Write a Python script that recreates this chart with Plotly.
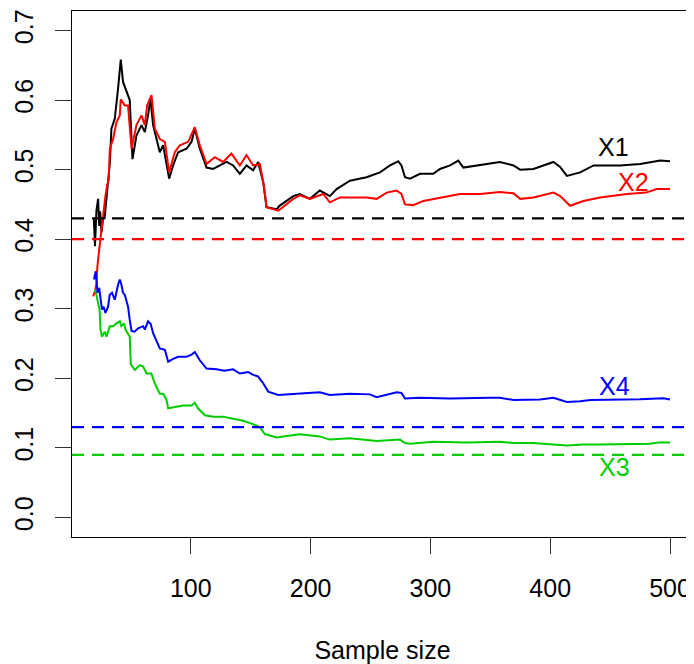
import plotly.graph_objects as go

# ---- data ----
x1_n = [19, 20, 21.2, 22.6, 23.5, 24.3, 25.4, 26.7, 28, 29.6, 30.9, 32.4, 33.7, 36.5, 39.3, 41.5, 43.4, 46.3, 49, 51.3,
        54.6, 58.8, 61.6, 64.3, 66.3, 68.5, 71.3, 74.1, 76.9, 79.7, 81.9, 85.2, 89.4, 96.4, 100.6, 103.3, 107.5, 113.1,
        118.6, 124.2, 129.8, 135.3, 140.9, 146.5, 152, 156.2, 160.4, 163.2, 171.6, 174, 185.5, 191, 199.4, 207.7, 216.1,
        221.7, 232.8, 246.7, 257.9, 266.2, 273.2, 275.8, 278.8, 283, 291.3, 302.4, 308, 316.4, 323.3, 327.5, 338.6, 347,
        358, 369.3, 374.9, 386, 402.7, 408.3, 413.9, 425, 436.2, 458.4, 475.1, 491.8, 500]
x1_v = [0.431, 0.39, 0.441, 0.458, 0.419, 0.44, 0.41, 0.429, 0.43, 0.458, 0.477, 0.51, 0.559, 0.573, 0.617, 0.658, 0.626,
        0.612, 0.600, 0.515, 0.549, 0.564, 0.554, 0.578, 0.602, 0.564, 0.544, 0.525, 0.535, 0.506, 0.487, 0.506, 0.525,
        0.530, 0.540, 0.559, 0.530, 0.503, 0.501, 0.506, 0.511, 0.506, 0.494, 0.506, 0.499, 0.511, 0.482, 0.446, 0.443,
        0.448, 0.462, 0.465, 0.458, 0.47, 0.462, 0.472, 0.484, 0.489, 0.496, 0.506, 0.512, 0.506, 0.489, 0.487, 0.494,
        0.494, 0.501, 0.506, 0.513, 0.503, 0.506, 0.508, 0.511, 0.506, 0.5, 0.501, 0.511, 0.504, 0.491, 0.496, 0.506,
        0.506, 0.508, 0.513, 0.512]

x2_n = [18.4, 20, 21.2, 22, 23.5, 24.8, 26, 27.6, 28.7, 30.1, 31.5, 32.4, 35.1, 37.9, 40.7, 41.5, 44.9, 47.6, 50.5, 54.6,
        58.8, 61.6, 63.5, 67.2, 69.9, 74.1, 78.3, 81.9, 86.6, 90.8, 97.8, 103.3, 107.5, 113.1, 120, 126.9, 133.9, 140.9,
        146.5, 152, 157.6, 161, 163.2, 173, 185.5, 191, 199.4, 210.5, 216.1, 224.5, 246.7, 255.1, 263.5, 271.8, 275.8,
        278.8, 285.7, 294.1, 308, 324.7, 341.4, 358, 369.3, 374.9, 386, 402.7, 408.3, 416.6, 427.7, 441.7, 464, 480, 489,
        500]
x2_v = [0.318, 0.325, 0.337, 0.361, 0.385, 0.405, 0.429, 0.448, 0.462, 0.477, 0.486, 0.53, 0.544, 0.568, 0.578, 0.601,
        0.592, 0.592, 0.53, 0.564, 0.578, 0.564, 0.592, 0.607, 0.559, 0.544, 0.540, 0.496, 0.525, 0.535, 0.540, 0.561,
        0.535, 0.508, 0.518, 0.511, 0.523, 0.506, 0.521, 0.506, 0.508, 0.477, 0.446, 0.441, 0.458, 0.463, 0.458, 0.465,
        0.453, 0.460, 0.460, 0.458, 0.467, 0.470, 0.465, 0.450, 0.449, 0.455, 0.460, 0.465, 0.465, 0.468, 0.466, 0.458,
        0.460, 0.467, 0.462, 0.448, 0.455, 0.46, 0.465, 0.467, 0.472, 0.472]

x3_n = [19.8, 21.2, 22.6, 23.8, 24.6, 25.8, 28.2, 29.6, 32.3, 35.1, 37.9, 40.7, 42, 44.3, 45.5, 47.6, 49, 49.9, 53.2,
        57.4, 60.2, 63, 67, 69.9, 74.1, 77, 79.7, 81.1, 86.6, 93.6, 100.6, 103.3, 106, 111.7, 118.6, 126.9, 135.3, 143.7,
        150.7, 157.6, 161.8, 171.6, 180, 191, 207.7, 216, 232.8, 246.7, 255.1, 274.5, 278.8, 283, 302.4, 330, 358, 369.3,
        385.5, 414, 427.7, 441.7, 483, 491.8, 500]
x3_v = [0.328, 0.32, 0.308, 0.30, 0.27, 0.26, 0.267, 0.26, 0.275, 0.275, 0.279, 0.282, 0.275, 0.279, 0.27, 0.265, 0.26,
        0.22, 0.212, 0.219, 0.217, 0.207, 0.207, 0.193, 0.178, 0.178, 0.169, 0.157, 0.159, 0.161, 0.161, 0.165, 0.157,
        0.147, 0.145, 0.145, 0.142, 0.139, 0.135, 0.13, 0.12, 0.115, 0.117, 0.1195, 0.1166, 0.112, 0.114, 0.112, 0.11,
        0.112, 0.107, 0.106, 0.109, 0.108, 0.109, 0.107, 0.107, 0.1035, 0.105, 0.105, 0.106, 0.108, 0.108]

x4_n = [19.2, 20.6, 21.5, 22, 23.5, 24.8, 25.8, 27.2, 28.7, 30.9, 32.3, 34.2, 36.5, 39.3, 40.7, 42, 43.4, 44.9, 47.6, 49,
        50.5, 53, 56, 60.2, 61.6, 64.3, 66.5, 68.5, 71.3, 74.1, 78.3, 81.1, 85.2, 89.4, 96.4, 100.6, 103.3, 107.5, 113.1,
        121.5, 128, 135.3, 140.9, 147.9, 152, 156, 160.4, 164.6, 173, 185.5, 198, 207.7, 216, 232.8, 249.5, 255.1, 263.5,
        271.8, 275.8, 278.8, 291.3, 316.4, 349.7, 358, 369.3, 391.5, 402.7, 413.9, 425, 433.5, 475.1, 494.6, 500]
x4_v = [0.342, 0.354, 0.337, 0.323, 0.33, 0.308, 0.299, 0.303, 0.294, 0.303, 0.32, 0.323, 0.313, 0.335, 0.342, 0.335,
        0.323, 0.32, 0.303, 0.284, 0.268, 0.267, 0.272, 0.275, 0.27, 0.282, 0.278, 0.265, 0.255, 0.243, 0.241, 0.224,
        0.228, 0.231, 0.231, 0.234, 0.238, 0.226, 0.214, 0.213, 0.211, 0.213, 0.207, 0.209, 0.205, 0.203, 0.193, 0.181,
        0.176, 0.178, 0.179, 0.18, 0.176, 0.178, 0.177, 0.173, 0.177, 0.18, 0.179, 0.171, 0.172, 0.171, 0.172, 0.172,
        0.169, 0.1695, 0.172, 0.166, 0.167, 0.169, 0.17, 0.1715, 0.1695]

true_values = [0.43, 0.40, 0.09, 0.13]          # X1, X2, X3, X4 reference levels
series_names = ["X1", "X2", "X3", "X4"]
series_colors = ["#000000", "#FF0000", "#00CD00", "#0000FF"]
label_x = [452.6, 469.3, 453.4, 453.4]
label_y = [0.533, 0.482, 0.072, 0.189]
y_ticks = [0.0, 0.1, 0.2, 0.3, 0.4, 0.5, 0.6, 0.7]
x_ticks = [100, 200, 300, 400, 500]

FONT = "Liberation Sans, Arial, sans-serif"

fig = go.Figure()
series = [(x1_n, x1_v), (x2_n, x2_v), (x3_n, x3_v), (x4_n, x4_v)]
for (xs, ys), name, col in zip(series, series_names, series_colors):
    fig.add_trace(go.Scatter(x=xs, y=ys, mode="lines", name=name,
                             line=dict(color=col, width=2), showlegend=False))

for val, col in zip(true_values, series_colors):
    fig.add_shape(type="line", xref="x domain", yref="y", x0=0, x1=1, y0=val, y1=val,
                  line=dict(color=col, width=2.2, dash="12px,8px"))

for name, col, lx, ly in zip(series_names, series_colors, label_x, label_y):
    fig.add_annotation(x=lx, y=ly, text=name, showarrow=False,
                       font=dict(family=FONT, size=25, color=col))

# the page body adds an 8px offset, so the figure is 8px smaller and shifted
fig.update_layout(
    width=686, height=656,
    margin=dict(l=64, r=1, t=3, b=127),
    paper_bgcolor="white", plot_bgcolor="white",
    font=dict(family=FONT, size=25, color="#000000"),
)
fig.update_xaxes(range=[0.8, 519.2], tickvals=x_ticks, ticktext=[str(v) for v in x_ticks],
                 automargin=False,
                 showgrid=False, zeroline=False, showline=True, mirror=True,
                 linecolor="#000000", linewidth=1.3, ticks="outside", ticklen=16,
                 tickcolor="#333333", tickwidth=1.3, ticklabelstandoff=13,
                 title=dict(text="Sample size", standoff=45, font=dict(size=25)))
fig.update_yaxes(range=[-0.028, 0.728], tickvals=y_ticks, ticktext=["%.1f" % v for v in y_ticks],
                 automargin=False,
                 tickangle=-90, showgrid=False, zeroline=False, showline=True, mirror=True,
                 linecolor="#000000", linewidth=1.3, ticks="outside", ticklen=16,
                 tickcolor="#333333", tickwidth=1.3, ticklabelstandoff=12)

fig.write_html("out.html")
